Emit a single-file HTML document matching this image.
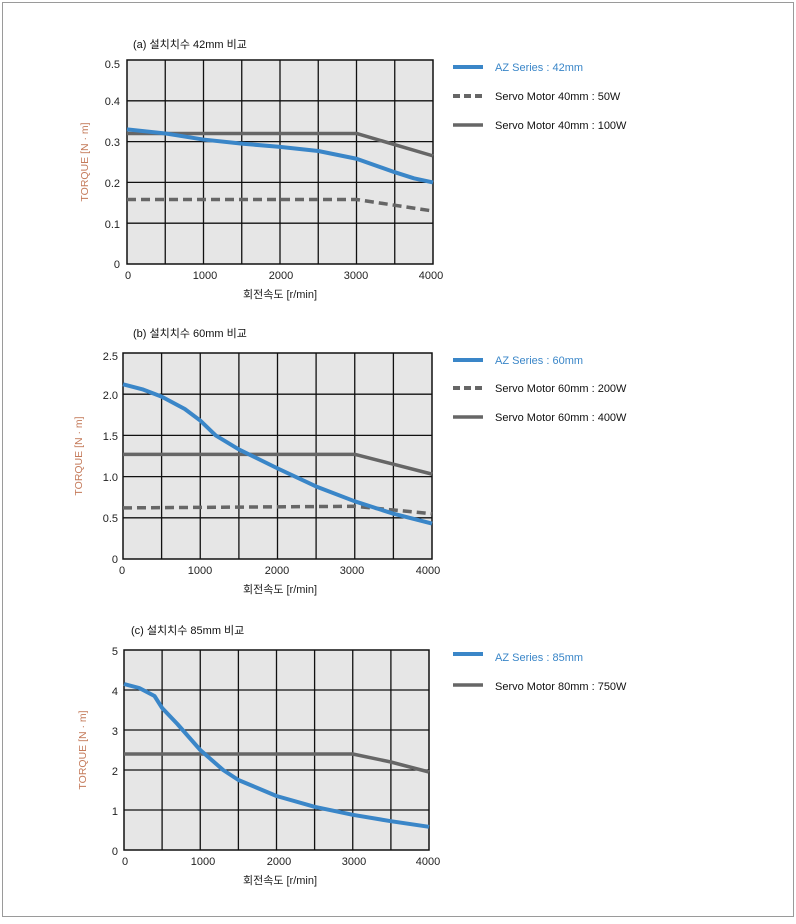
<!DOCTYPE html>
<html><head><meta charset="utf-8"><style>
body{margin:0;background:#fff;}
svg text{font-family:"Liberation Sans","Noto Sans CJK KR",sans-serif;}
</style></head><body>
<svg width="796" height="919" viewBox="0 0 796 919" xmlns="http://www.w3.org/2000/svg">
<rect x="2.5" y="2.5" width="791" height="914" fill="#fff" stroke="#9a9a9a" stroke-width="1"/>

<!-- Chart 1 -->
<text x="133" y="48" font-size="11" fill="#111">(a) 설치치수 42mm 비교</text>
<rect x="127" y="60" width="306" height="204" fill="#e6e6e6"/>
<g stroke="#111" stroke-width="1.3">
<line x1="165.25" y1="60" x2="165.25" y2="264"/><line x1="203.5" y1="60" x2="203.5" y2="264"/><line x1="241.75" y1="60" x2="241.75" y2="264"/><line x1="280" y1="60" x2="280" y2="264"/><line x1="318.25" y1="60" x2="318.25" y2="264"/><line x1="356.5" y1="60" x2="356.5" y2="264"/><line x1="394.75" y1="60" x2="394.75" y2="264"/>
<line x1="127" y1="100.8" x2="433" y2="100.8"/><line x1="127" y1="141.6" x2="433" y2="141.6"/><line x1="127" y1="182.4" x2="433" y2="182.4"/><line x1="127" y1="223.2" x2="433" y2="223.2"/>
</g>
<rect x="127" y="60" width="306" height="204" fill="none" stroke="#111" stroke-width="1.5"/>
<g transform="translate(127,264) scale(0.0765,-408)" fill="none" stroke-linejoin="round">
<polyline vector-effect="non-scaling-stroke" stroke="#666" stroke-width="3.5" points="0,0.32 3000,0.32 4000,0.265"/>
<polyline vector-effect="non-scaling-stroke" stroke="#3a86c8" stroke-width="4" points="0,0.33 500,0.32 1000,0.305 1500,0.295 2000,0.287 2500,0.277 3000,0.258 3500,0.225 3750,0.21 4000,0.2"/>
</g>
<polyline fill="none" stroke="#666" stroke-width="3.5" stroke-dasharray="9,5" points="127,199.5 356.5,199.5 433,211"/>
<g font-size="11" fill="#222" text-anchor="end">
<text x="120" y="68">0.5</text><text x="120" y="105">0.4</text><text x="120" y="146">0.3</text><text x="120" y="187">0.2</text><text x="120" y="228">0.1</text><text x="120" y="268">0</text>
</g>
<g font-size="11" fill="#222" text-anchor="middle">
<text x="128" y="279">0</text><text x="205" y="279">1000</text><text x="281" y="279">2000</text><text x="356" y="279">3000</text><text x="431" y="279">4000</text>
<text x="280" y="298">회전속도 [r/min]</text>
</g>
<text transform="translate(88,162) rotate(-90)" font-size="10.5" fill="#c47a5a" text-anchor="middle">TORQUE [N · m]</text>
<line x1="453" y1="67" x2="483" y2="67" stroke="#3a86c8" stroke-width="4"/>
<text x="495" y="71" font-size="11" fill="#3a86c8">AZ Series : 42mm</text>
<line x1="453" y1="96" x2="483" y2="96" stroke="#666" stroke-width="4" stroke-dasharray="7,4"/>
<text x="495" y="100" font-size="11" fill="#111">Servo Motor 40mm : 50W</text>
<line x1="453" y1="125" x2="483" y2="125" stroke="#666" stroke-width="3.5"/>
<text x="495" y="129" font-size="11" fill="#111">Servo Motor 40mm : 100W</text>

<!-- Chart 2 -->
<text x="133" y="337" font-size="11" fill="#111">(b) 설치치수 60mm 비교</text>
<rect x="123" y="353" width="309" height="206" fill="#e6e6e6"/>
<g stroke="#111" stroke-width="1.3">
<line x1="161.6" y1="353" x2="161.6" y2="559"/><line x1="200.25" y1="353" x2="200.25" y2="559"/><line x1="238.9" y1="353" x2="238.9" y2="559"/><line x1="277.5" y1="353" x2="277.5" y2="559"/><line x1="316.1" y1="353" x2="316.1" y2="559"/><line x1="354.75" y1="353" x2="354.75" y2="559"/><line x1="393.4" y1="353" x2="393.4" y2="559"/>
<line x1="123" y1="394.2" x2="432" y2="394.2"/><line x1="123" y1="435.4" x2="432" y2="435.4"/><line x1="123" y1="476.6" x2="432" y2="476.6"/><line x1="123" y1="517.8" x2="432" y2="517.8"/>
</g>
<rect x="123" y="353" width="309" height="206" fill="none" stroke="#111" stroke-width="1.5"/>
<g transform="translate(123,559) scale(0.07725,-82.4)" fill="none" stroke-linejoin="round">
<polyline vector-effect="non-scaling-stroke" stroke="#666" stroke-width="3.5" points="0,1.27 3000,1.27 3500,1.15 4000,1.03"/>
</g>
<polyline fill="none" stroke="#666" stroke-width="3.5" stroke-dasharray="9,5" points="123,507.9 354.75,506.3 432,513.7"/>
<g transform="translate(123,559) scale(0.07725,-82.4)" fill="none" stroke-linejoin="round">
<polyline vector-effect="non-scaling-stroke" stroke="#3a86c8" stroke-width="4" points="0,2.12 250,2.06 500,1.97 800,1.82 1000,1.68 1200,1.5 1500,1.33 2000,1.1 2500,0.88 3000,0.7 3500,0.55 4000,0.43"/>
</g>
<g font-size="11" fill="#222" text-anchor="end">
<text x="118" y="360">2.5</text><text x="118" y="399">2.0</text><text x="118" y="440">1.5</text><text x="118" y="481">1.0</text><text x="118" y="522">0.5</text><text x="118" y="563">0</text>
</g>
<g font-size="11" fill="#222" text-anchor="middle">
<text x="122" y="574">0</text><text x="200" y="574">1000</text><text x="277" y="574">2000</text><text x="352" y="574">3000</text><text x="428" y="574">4000</text>
<text x="280" y="593">회전속도 [r/min]</text>
</g>
<text transform="translate(82,456) rotate(-90)" font-size="10.5" fill="#c47a5a" text-anchor="middle">TORQUE [N · m]</text>
<line x1="453" y1="360" x2="483" y2="360" stroke="#3a86c8" stroke-width="4"/>
<text x="495" y="364" font-size="11" fill="#3a86c8">AZ Series : 60mm</text>
<line x1="453" y1="388" x2="483" y2="388" stroke="#666" stroke-width="4" stroke-dasharray="7,4"/>
<text x="495" y="392" font-size="11" fill="#111">Servo Motor 60mm : 200W</text>
<line x1="453" y1="417" x2="483" y2="417" stroke="#666" stroke-width="3.5"/>
<text x="495" y="421" font-size="11" fill="#111">Servo Motor 60mm : 400W</text>

<!-- Chart 3 -->
<text x="131" y="634" font-size="11" fill="#111">(c) 설치치수 85mm 비교</text>
<rect x="124" y="650" width="305" height="200" fill="#e6e6e6"/>
<g stroke="#111" stroke-width="1.3">
<line x1="162.1" y1="650" x2="162.1" y2="850"/><line x1="200.25" y1="650" x2="200.25" y2="850"/><line x1="238.4" y1="650" x2="238.4" y2="850"/><line x1="276.5" y1="650" x2="276.5" y2="850"/><line x1="314.6" y1="650" x2="314.6" y2="850"/><line x1="352.75" y1="650" x2="352.75" y2="850"/><line x1="390.9" y1="650" x2="390.9" y2="850"/>
<line x1="124" y1="690" x2="429" y2="690"/><line x1="124" y1="730" x2="429" y2="730"/><line x1="124" y1="770" x2="429" y2="770"/><line x1="124" y1="810" x2="429" y2="810"/>
</g>
<rect x="124" y="650" width="305" height="200" fill="none" stroke="#111" stroke-width="1.5"/>
<g transform="translate(124,850) scale(0.07625,-40)" fill="none" stroke-linejoin="round">
<polyline vector-effect="non-scaling-stroke" stroke="#666" stroke-width="3.5" points="0,2.4 3000,2.4 3500,2.2 4000,1.95"/>
<polyline vector-effect="non-scaling-stroke" stroke="#3a86c8" stroke-width="4" points="0,4.15 200,4.05 400,3.85 500,3.55 700,3.15 1000,2.5 1300,2 1500,1.75 2000,1.35 2500,1.08 3000,0.88 3500,0.72 4000,0.58"/>
</g>
<g font-size="11" fill="#222" text-anchor="end">
<text x="118" y="655">5</text><text x="118" y="695">4</text><text x="118" y="735">3</text><text x="118" y="775">2</text><text x="118" y="815">1</text><text x="118" y="855">0</text>
</g>
<g font-size="11" fill="#222" text-anchor="middle">
<text x="125" y="865">0</text><text x="203" y="865">1000</text><text x="279" y="865">2000</text><text x="354" y="865">3000</text><text x="428" y="865">4000</text>
<text x="280" y="884">회전속도 [r/min]</text>
</g>
<text transform="translate(86,750) rotate(-90)" font-size="10.5" fill="#c47a5a" text-anchor="middle">TORQUE [N · m]</text>
<line x1="453" y1="654" x2="483" y2="654" stroke="#3a86c8" stroke-width="4"/>
<text x="495" y="661" font-size="11" fill="#3a86c8">AZ Series : 85mm</text>
<line x1="453" y1="685" x2="483" y2="685" stroke="#666" stroke-width="3.5"/>
<text x="495" y="690" font-size="11" fill="#111">Servo Motor 80mm : 750W</text>
</svg>
</body></html>
